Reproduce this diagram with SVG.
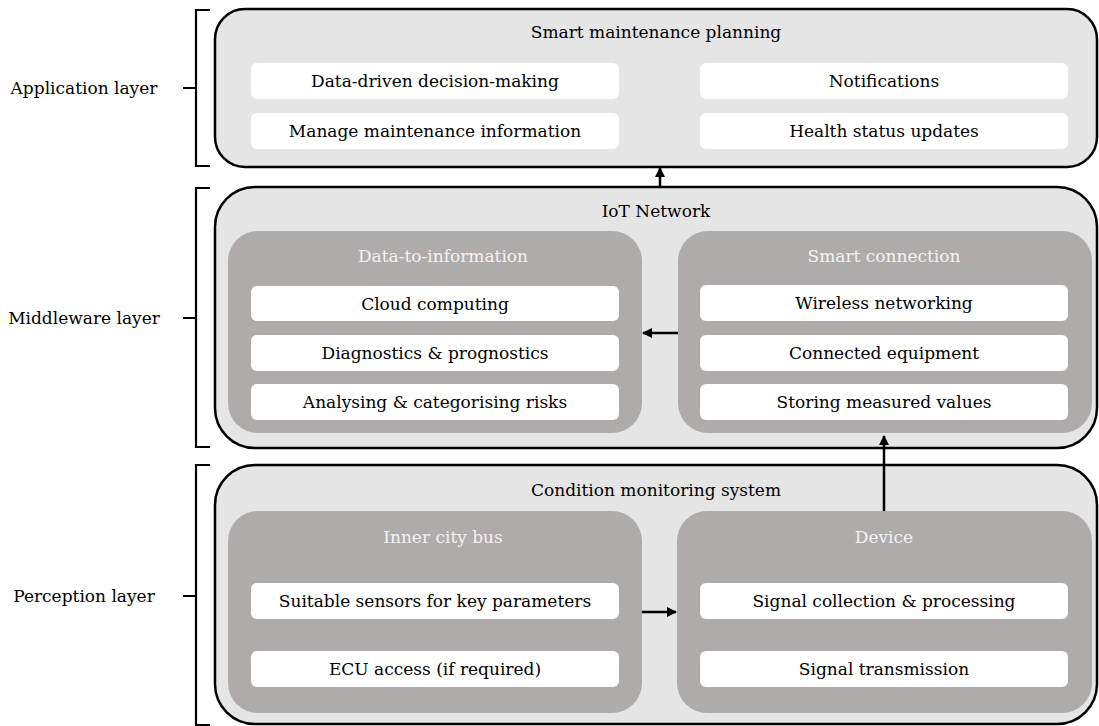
<svg xmlns="http://www.w3.org/2000/svg" width="1099" height="726" viewBox="0 0 1099 726">
<style>
text{font-family:"DejaVu Serif","Liberation Serif",serif;font-size:17px;text-anchor:middle;dominant-baseline:central;fill:#000}
.layer{fill:#e5e5e5;stroke:#000;stroke-width:2.5}
.grp{fill:#afabab}
.item{fill:#fff}
.gt{fill:#f2f2f2}
.br{fill:none;stroke:#000;stroke-width:2.2}
.con{fill:none;stroke:#000;stroke-width:2.5}
</style>
<defs>
<marker id="ah" viewBox="0 0 10 10" refX="9" refY="5" markerWidth="4" markerHeight="4" orient="auto"><path d="M0,0L10,5L0,10z" fill="#000"/></marker>
</defs>
<g id="labels">
<text x="84" y="88">Application layer</text>
<text x="84" y="318">Middleware layer</text>
<text x="84" y="596">Perception layer</text>
<path class="br" d="M210,10H196V88H183M196,88V166H210"/>
<path class="br" d="M210,188H196V318H183M196,318V447H210"/>
<path class="br" d="M210,465H196V596H183M196,596V725H210"/>
</g>
<g id="application">
<rect class="layer" x="215" y="9" width="882" height="158" rx="30"/>
<text x="656" y="32">Smart maintenance planning</text>
<rect class="item" x="251" y="63" width="368" height="36" rx="6"/>
<text x="435" y="81">Data-driven decision-making</text>
<rect class="item" x="251" y="113" width="368" height="36" rx="6"/>
<text x="435" y="131">Manage maintenance information</text>
<rect class="item" x="700" y="63" width="368" height="36" rx="6"/>
<text x="884" y="81">Notifications</text>
<rect class="item" x="700" y="113" width="368" height="36" rx="6"/>
<text x="884" y="131">Health status updates</text>
</g>
<g id="middleware">
<rect class="layer" x="215" y="187" width="882" height="261" rx="40"/>
<text x="656" y="211">IoT Network</text>
</g>
<g id="data-to-information">
<rect class="grp" x="228" y="231" width="414" height="202" rx="30"/>
<text class="gt" x="443" y="256">Data-to-information</text>
<rect class="item" x="251" y="286" width="368" height="35" rx="6"/>
<text x="435" y="303.5">Cloud computing</text>
<rect class="item" x="251" y="335" width="368" height="36" rx="6"/>
<text x="435" y="353">Diagnostics &amp; prognostics</text>
<rect class="item" x="251" y="384" width="368" height="36" rx="6"/>
<text x="435" y="402">Analysing &amp; categorising risks</text>
</g>
<g id="smart-connection">
<rect class="grp" x="678" y="231" width="414" height="202" rx="30"/>
<text class="gt" x="884" y="256">Smart connection</text>
<rect class="item" x="700" y="285" width="368" height="36" rx="6"/>
<text x="884" y="303">Wireless networking</text>
<rect class="item" x="700" y="335" width="368" height="36" rx="6"/>
<text x="884" y="353">Connected equipment</text>
<rect class="item" x="700" y="384" width="368" height="36" rx="6"/>
<text x="884" y="402">Storing measured values</text>
</g>
<g id="perception">
<rect class="layer" x="215" y="465" width="882" height="259" rx="40"/>
<text x="656" y="490">Condition monitoring system</text>
</g>
<g id="inner-city-bus">
<rect class="grp" x="228" y="511" width="414" height="202" rx="30"/>
<text class="gt" x="443" y="537">Inner city bus</text>
<rect class="item" x="251" y="583" width="368" height="36" rx="6"/>
<text x="435" y="601">Suitable sensors for key parameters</text>
<rect class="item" x="251" y="651" width="368" height="36" rx="6"/>
<text x="435" y="669">ECU access (if required)</text>
</g>
<g id="device">
<rect class="grp" x="677" y="511" width="415" height="202" rx="30"/>
<text class="gt" x="884" y="537">Device</text>
<rect class="item" x="700" y="583" width="368" height="36" rx="6"/>
<text x="884" y="601">Signal collection &amp; processing</text>
<rect class="item" x="700" y="651" width="368" height="36" rx="6"/>
<text x="884" y="669">Signal transmission</text>
</g>
<g id="connectors">
<path class="con" d="M660,187V168" marker-end="url(#ah)"/>
<path class="con" d="M678,333H643" marker-end="url(#ah)"/>
<path class="con" d="M884,511V436" marker-end="url(#ah)"/>
<path class="con" d="M642,612H676" marker-end="url(#ah)"/>
</g>
</svg>
